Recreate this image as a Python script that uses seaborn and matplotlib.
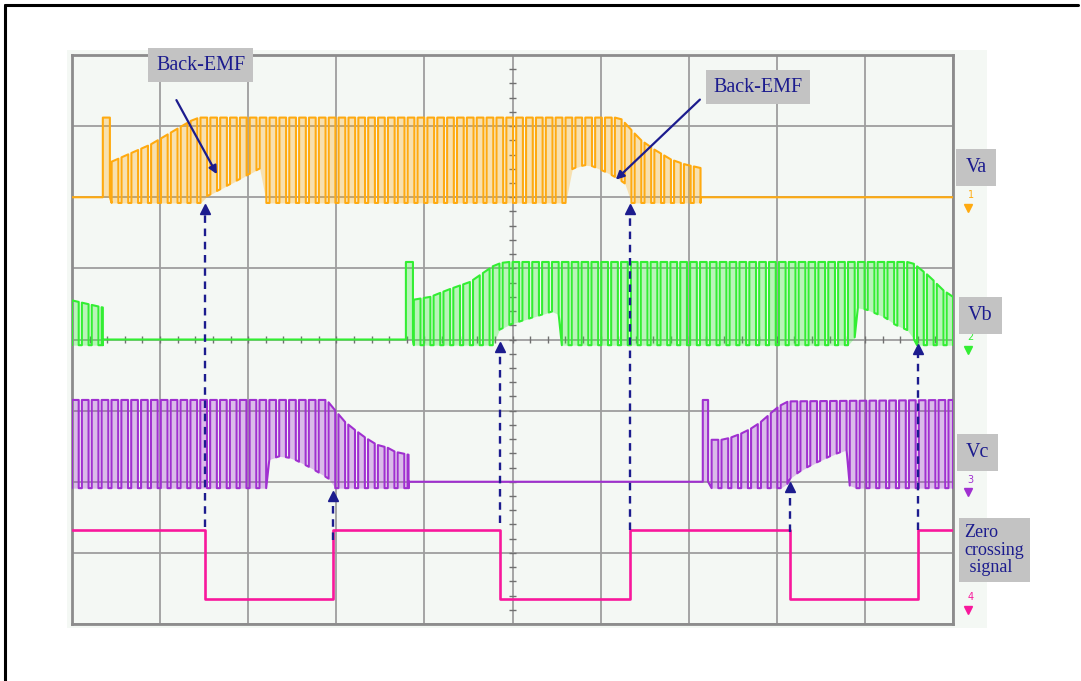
import numpy as np
import pandas as pd
import matplotlib
matplotlib.use("Agg")
import matplotlib.pyplot as plt
import seaborn as sns
from matplotlib.patches import Rectangle
from matplotlib.lines import Line2D

sns.set_style("white")
plt.rcParams["font.family"] = ["Liberation Serif", "DejaVu Serif"]

# screen units: x in divisions (0..10), y in divisions (0..8, from bottom)
PWM_PERIOD = 0.112
PWM_DUTY = 0.68

# --- Va (orange) ---
va_base = 6.0
va_spike_top = 7.12
va_segments = [("flat", 0.0, 0.35), ("spike", 0.35, 0.43), ("pwm", 0.45, 7.14), ("flat", 7.14, 10.0)]
va_top_x = [0.45, 0.89, 1.37, 1.45, 6.22, 6.45, 6.61, 6.80, 6.96, 7.14]
va_top_y = [6.50, 6.74, 7.09, 7.12, 7.12, 6.81, 6.67, 6.53, 6.46, 6.41]
va_off_x = [0.45, 1.49, 1.51, 2.17, 2.20, 5.62, 5.65, 5.74, 5.86, 5.98, 6.10, 6.20, 6.28, 6.30, 7.14]
va_off_y = [5.92, 5.92, 6.00, 6.43, 5.92, 5.92, 6.38, 6.43, 6.46, 6.40, 6.33, 6.26, 6.19, 5.92, 5.92]

# --- Vb (green) ---
vb_base = 4.0
vb_spike_top = 5.09
vb_segments = [("pwm", 0.0, 0.35), ("flat", 0.35, 3.79), ("spike", 3.79, 3.87), ("pwm", 3.88, 10.0)]
vb_top_x = [0.0, 0.35, 3.88, 4.07, 4.27, 4.52, 4.80, 4.92, 9.53, 9.74, 9.88, 10.0]
vb_top_y = [4.55, 4.45, 4.56, 4.60, 4.70, 4.81, 5.05, 5.09, 5.09, 4.88, 4.70, 4.60]
vb_off_x = [0.0, 4.82, 4.84, 4.97, 5.20, 5.52, 5.55, 8.88, 8.90, 9.02, 9.23, 9.34, 9.54, 9.57, 10.0]
vb_off_y = [3.92, 3.92, 4.13, 4.21, 4.30, 4.42, 3.92, 3.92, 4.45, 4.42, 4.31, 4.21, 4.10, 3.92, 3.92]

# --- Vc (purple) ---
vc_base = 2.0
vc_spike_top = 3.15
vc_segments = [("pwm", 0.0, 3.82), ("flat", 3.82, 7.16), ("spike", 7.16, 7.22), ("pwm", 7.26, 10.0)]
vc_top_x = [0.0, 2.89, 3.01, 3.10, 3.21, 3.33, 3.46, 3.58, 3.67, 3.82, 7.26, 7.39, 7.50, 7.62, 7.74, 7.85, 7.97, 8.05, 8.13, 10.0]
vc_top_y = [3.15, 3.15, 2.97, 2.84, 2.73, 2.62, 2.52, 2.48, 2.42, 2.38, 2.59, 2.59, 2.63, 2.69, 2.77, 2.87, 3.01, 3.08, 3.13, 3.15]
vc_off_x = [0.0, 2.21, 2.23, 2.36, 2.50, 2.61, 2.72, 2.84, 2.93, 2.96, 8.11, 8.13, 8.29, 8.45, 8.64, 8.80, 8.83, 10.0]
vc_off_y = [1.91, 1.91, 2.31, 2.36, 2.33, 2.26, 2.19, 2.10, 2.03, 1.91, 1.91, 2.03, 2.17, 2.27, 2.38, 2.45, 1.91, 1.91]

# --- zero crossing signal (magenta) ---
zc_edges = [1.51, 2.96, 4.86, 6.33, 8.15, 9.60]
zc_high = 1.32
zc_low = 0.35

# dashed arrows: from zero-crossing edge up to the phase trace
arrow_x = zc_edges
arrow_bottom = [1.37, 1.18, 1.42, 1.32, 1.30, 1.32]
arrow_top = [5.89, 1.86, 3.95, 5.89, 1.99, 3.92]

colors = {"Va": "#FFAA10", "Vb": "#33EE33", "Vc": "#A030D0", "ZC": "#F8189C"}
navy = "#1C1C8E"


def build_trace(segments, base, spike_top, top_x, top_y, off_x, off_y):
    xs, ys, fill_lo = [], [], []
    for kind, a, b in segments:
        if kind == "flat":
            xs += [a, b]
            ys += [base, base]
            fill_lo += [base, base]
        elif kind == "spike":
            xs += [a, a, b, b]
            ys += [base, spike_top, spike_top, base]
            fill_lo += [base] * 4
        else:
            t = a
            while t < b - 1e-9:
                e = min(t + PWM_DUTY * PWM_PERIOD, b)
                lo = np.interp(t, off_x, off_y)
                lo2 = np.interp(e, off_x, off_y)
                xs += [t, t, e, e]
                ys += [lo, np.interp(t, top_x, top_y), np.interp(e, top_x, top_y), lo2]
                fill_lo += [lo, lo, lo2, lo2]
                t += PWM_PERIOD
    return np.array(xs), np.array(ys), np.array(fill_lo)


fig = plt.figure(figsize=(10.81, 6.81), dpi=100)
W, H = 1081, 681
# light screen background and outer frame
fig.add_artist(Rectangle((67 / W, 1 - 628 / H), 920 / W, 578 / H, transform=fig.transFigure,
                         facecolor="#F4F8F4", edgecolor="none", zorder=0))
fig.add_artist(Line2D([5 / W, 5 / W], [0, 1 - 5 / H], color="black", lw=2.2))
fig.add_artist(Line2D([5 / W, 1 - 3 / W], [1 - 5 / H, 1 - 5 / H], color="black", lw=2.2))

ax = fig.add_axes([72 / W, 1 - 624 / H, 881 / W, 569 / H])
ax.set_facecolor("#F4F8F4")
ax.set_xlim(0, 10)
ax.set_ylim(0, 8)
ax.set_xticks(range(11))
ax.set_yticks(range(9))
ax.tick_params(length=0, labelbottom=False, labelleft=False)
ax.grid(True, color="#9E9E9E", lw=1.3)
ax.set_axisbelow(True)
for s in ax.spines.values():
    s.set_color("#8C8C8C")
    s.set_linewidth(2)

# centre graticule ticks
minor = np.arange(0.2, 10, 0.2)
ax.vlines(minor, 4 - 0.045, 4 + 0.045, color="#707070", lw=1, zorder=1)
minor_y = np.arange(0.2, 8, 0.2)
ax.hlines(minor_y, 5 - 0.035, 5 + 0.035, color="#707070", lw=1, zorder=1)

traces = [
    ("Va", va_segments, va_base, va_spike_top, va_top_x, va_top_y, va_off_x, va_off_y),
    ("Vb", vb_segments, vb_base, vb_spike_top, vb_top_x, vb_top_y, vb_off_x, vb_off_y),
    ("Vc", vc_segments, vc_base, vc_spike_top, vc_top_x, vc_top_y, vc_off_x, vc_off_y),
]
for name, seg, base, sp, tx, ty, ox, oy in traces:
    xs, ys, lo = build_trace(seg, base, sp, tx, ty, ox, oy)
    ax.fill_between(xs, ys, lo, color=colors[name], alpha=0.3, lw=0, zorder=2)
    df = pd.DataFrame({"t": xs, "v": ys})
    sns.lineplot(data=df, x="t", y="v", color=colors[name], lw=1.5, estimator=None,
                 sort=False, ax=ax, zorder=3)

# zero crossing square wave
zx, zy = [0.0], [zc_high]
level = zc_high
for e in zc_edges:
    zx += [e, e]
    zy += [level, zc_low if level == zc_high else zc_high]
    level = zy[-1]
zx.append(10.0)
zy.append(level)
sns.lineplot(data=pd.DataFrame({"t": zx, "v": zy}), x="t", y="v", color=colors["ZC"], lw=1.9,
             estimator=None, sort=False, ax=ax, zorder=3)

# dashed arrows
for x, y0, y1 in zip(arrow_x, arrow_bottom, arrow_top):
    ax.plot([x, x], [y0, y1 - 0.08], color=navy, lw=1.7, ls=(0, (3.2, 2.4)), zorder=5)
    ax.plot([x], [y1 - 0.06], marker="^", ms=7, color=navy, zorder=5)

ax.set_xlabel("")
ax.set_ylabel("")

# Back-EMF callouts
lab_kw = dict(color=navy, fontsize=14.5, ha="center", va="center", zorder=6, clip_on=False)
ax.text(1.459, 7.855, "Back-EMF", bbox=dict(boxstyle="square,pad=0.38", fc="#C3C3C3", ec="none"), **lab_kw)
ax.text(7.787, 7.546, "Back-EMF", bbox=dict(boxstyle="square,pad=0.38", fc="#C3C3C3", ec="none"), **lab_kw)
arr = dict(arrowstyle="-|>", color=navy, lw=1.6, mutation_scale=12)
ax.annotate("", xy=(1.66, 6.29), xytext=(1.17, 7.40), arrowprops=arr, zorder=6)
ax.annotate("", xy=(6.15, 6.22), xytext=(7.15, 7.40), arrowprops=arr, zorder=6)

# channel labels on the right
for txt, x, y in [("Va", 10.26, 6.42), ("Vb", 10.31, 4.34), ("Vc", 10.28, 2.41)]:
    ax.text(x, y, txt, bbox=dict(boxstyle="square,pad=0.45", fc="#C3C3C3", ec="none"), **lab_kw)
ax.text(10.47, 1.04, "Zero\ncrossing\n signal", linespacing=1.05, multialignment="left",
        bbox=dict(boxstyle="square,pad=0.3", fc="#C3C3C3", ec="none"),
        **{**lab_kw, "fontsize": 13})

# channel ground markers
for num, base, key in [("1", va_base, "Va"), ("2", vb_base, "Vb"), ("3", vc_base, "Vc"), ("4", zc_low, "ZC")]:
    ax.text(10.2, base + 0.03, num, color=colors[key], fontsize=7, ha="center", va="center",
            clip_on=False, family="DejaVu Sans")
    ax.plot([10.17], [base - 0.15], marker="v", ms=6, color=colors[key], clip_on=False)

fig.savefig("out.png", dpi=100)
